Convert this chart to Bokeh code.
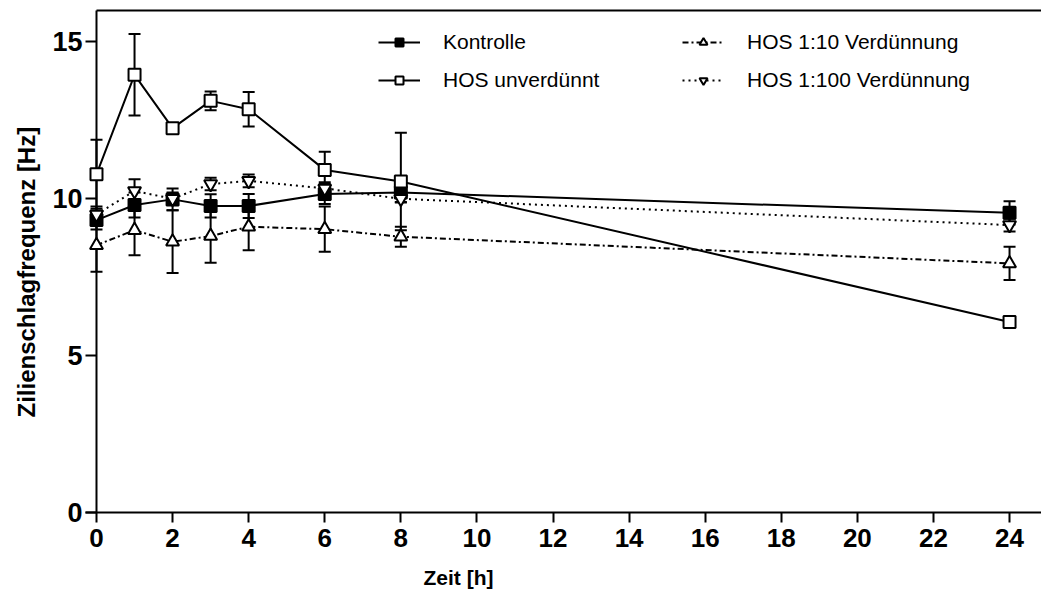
from bokeh.plotting import figure
from bokeh.models import (Range1d, FixedTicker, ColumnDataSource, Whisker, TeeHead,
                          Legend, LegendItem, Title)
from bokeh.embed import file_html
from bokeh.resources import INLINE

# ---- data ----
zeit = [0, 1, 2, 3, 4, 6, 8, 24]
kontrolle = [9.32, 9.80, 9.98, 9.77, 9.77, 10.15, 10.20, 9.55]
kontrolle_err = [0.30, 0.40, 0.35, 0.37, 0.38, 0.32, 0.30, 0.37]
hos_unv = [10.78, 13.95, 12.25, 13.12, 12.85, 10.92, 10.55, 6.07]
hos_unv_err = [1.10, 1.30, 0.10, 0.30, 0.55, 0.58, 1.55, 0.10]
hos_10 = [8.52, 9.00, 8.63, 8.81, 9.11, 9.03, 8.79, 7.94]
hos_10_err = [0.85, 0.80, 1.00, 0.85, 0.75, 0.72, 0.32, 0.53]
hos_100 = [9.50, 10.25, 10.00, 10.47, 10.57, 10.33, 10.00, 9.16]
hos_100_err = [0.25, 0.37, 0.20, 0.20, 0.20, 0.20, 0.12, 0.20]

x_ticks = [0, 2, 4, 6, 8, 10, 12, 14, 16, 18, 20, 22, 24]
y_ticks = [0, 5, 10, 15]
labels = ["Kontrolle", "HOS unverdünnt", "HOS 1:10 Verdünnung", "HOS 1:100 Verdünnung"]
x_title = "Zeit [h]"
y_title = "Zilienschlagfrequenz [Hz]"

X0, X1 = -0.289, 24.84
Y_TOP = 16.0
Y1 = 16.064

FONT = "Liberation Sans"

p = figure(width=1041, height=602, x_range=Range1d(X0, X1), y_range=Range1d(0, Y1),
           output_backend="svg", toolbar_location=None,
           min_border_left=85, min_border_right=0, min_border_top=8, min_border_bottom=90)
p.xgrid.visible = False
p.ygrid.visible = False
p.outline_line_color = None
p.background_fill_color = "white"
p.border_fill_color = "white"

# x axis
xa = p.xaxis[0]
xa.ticker = FixedTicker(ticks=x_ticks)
xa.axis_line_width = 2
xa.major_tick_line_width = 2
xa.major_tick_out = 10
xa.major_tick_in = 0
xa.minor_tick_line_color = None
xa.major_label_standoff = 6
xa.major_label_text_font = FONT
xa.major_label_text_font_style = "bold"
xa.major_label_text_font_size = "26px"
xa.major_label_text_color = "black"

# y axis
ya = p.yaxis[0]
ya.ticker = FixedTicker(ticks=y_ticks)
ya.axis_line_color = None
ya.major_tick_line_width = 2
ya.major_tick_out = 0
ya.major_tick_in = 11
ya.minor_tick_line_color = None
ya.major_label_standoff = 3
ya.major_label_text_font = FONT
ya.major_label_text_font_style = "bold"
ya.major_label_text_font_size = "27px"
ya.major_label_text_color = "black"

# axis titles as positioned titles
tx = Title(text=x_title, align="left", offset=338, standoff=28,
           text_font=FONT, text_font_style="bold", text_font_size="21px",
           text_color="black")
p.add_layout(tx, "below")
ty = Title(text=y_title, align="left", offset=95, standoff=20,
           text_font=FONT, text_font_style="bold", text_font_size="24px",
           text_color="black")
p.add_layout(ty, "left")

# frame lines: left axis line at x=0 and top line
p.segment(x0=[0, 0], y0=[0, Y_TOP], x1=[0, X1], y1=[Y_TOP, Y_TOP],
          line_color="black", line_width=2)

series = [
    (kontrolle, kontrolle_err, "solid", "square", "black"),
    (hos_unv, hos_unv_err, "solid", "square", "white"),
    (hos_10, hos_10_err, "6 3 2 3", "triangle", "white"),
    (hos_100, hos_100_err, "2 4", "inverted_triangle", "white"),
]

items = []
for (vals, errs, dash, marker, fill), lab in zip(series, labels):
    src = ColumnDataSource(dict(
        x=zeit, y=vals,
        upper=[v + e for v, e in zip(vals, errs)],
        lower=[v - e for v, e in zip(vals, errs)],
    ))
    w = Whisker(source=src, base="x", upper="upper", lower="lower", dimension="height",
                line_color="black", line_width=2, level="underlay",
                upper_head=TeeHead(size=12, line_width=2, line_color="black"),
                lower_head=TeeHead(size=12, line_width=2, line_color="black"))
    p.add_layout(w)
    lr = p.line("x", "y", source=src, line_color="black", line_width=2, line_dash=dash)
    sz = 12 if marker == "square" else 13
    sr = p.scatter("x", "y", source=src, marker=marker, size=sz, fill_color=fill,
                   line_color="black", line_width=2)
    items.append(LegendItem(label=lab, renderers=[lr, sr]))

def make_legend(its, loc):
    lg = Legend(items=its, location=loc, orientation="vertical",
                border_line_color=None, background_fill_alpha=0,
                padding=0, margin=0, spacing=14,
                glyph_width=42, glyph_height=20, label_height=20,
                label_standoff=23,
                label_text_font=FONT, label_text_font_size="21px",
                label_text_color="black")
    return lg

p.add_layout(make_legend(items[:2], (293, 420)))
p.add_layout(make_legend(items[2:], (597, 420)))

open("out.html", "w").write(file_html(p, INLINE))
